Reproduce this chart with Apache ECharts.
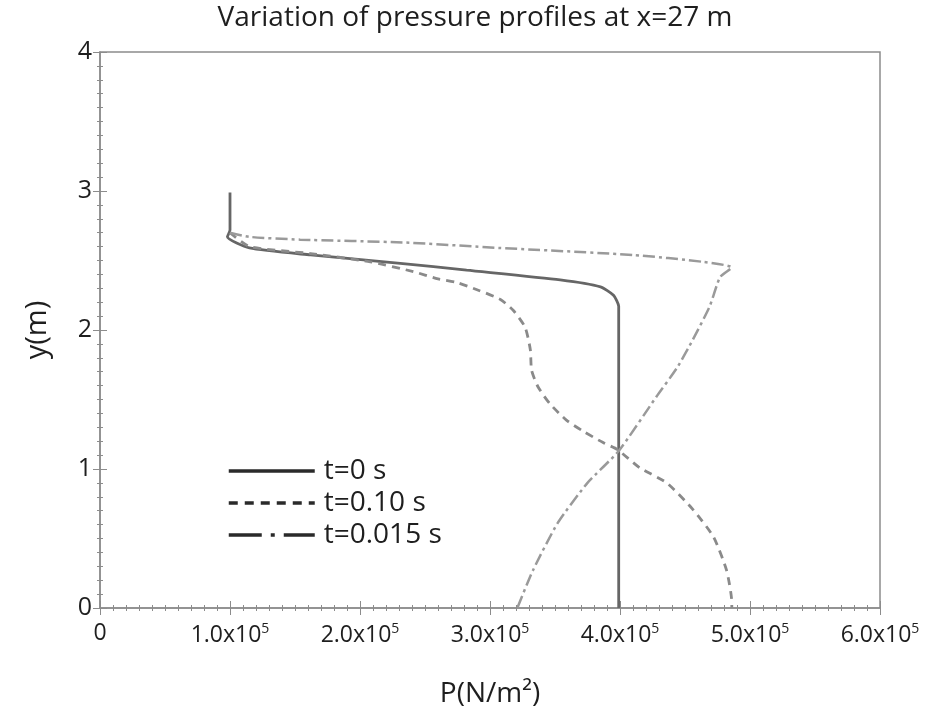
<!DOCTYPE html>
<html>
<head>
<meta charset="utf-8">
<script src="https://cdn.jsdelivr.net/npm/echarts@6/dist/echarts.min.js"></script>
<style>
  html, body { margin: 0; padding: 0; background: #fff; }
  #chart { width: 927px; height: 719px; }
</style>
</head>
<body>
<div id="chart"></div>
<script>
// pressure in N/m^2, height in m
const seriesNames = ["t=0 s", "t=0.10 s", "t=0.015 s"];

const t0P = [100000, 100000, 98000, 115000, 162000, 231000, 282000, 354000, 385000, 395000, 399000, 399000, 399000];
const t0Y = [2.99, 2.72, 2.67, 2.59, 2.54, 2.48, 2.43, 2.36, 2.31, 2.25, 2.17, 2.07, 0];

const t010P = [100000, 115000, 162000, 208000, 241000, 259000, 275000, 290000, 308000, 318000, 327000, 331000, 332000, 337000, 346000, 359000, 372000, 387000, 398000, 415000, 436000, 456000, 472000, 482000, 486000, 486000];
const t010Y = [2.70, 2.60, 2.55, 2.49, 2.42, 2.37, 2.34, 2.29, 2.22, 2.14, 2.02, 1.86, 1.71, 1.59, 1.47, 1.35, 1.27, 1.19, 1.14, 1.01, 0.90, 0.71, 0.51, 0.27, 0.04, 0];

const t0015P = [100000, 115000, 154000, 233000, 308000, 410000, 464000, 486000, 477000, 469000, 456000, 444000, 428000, 399000, 375000, 352000, 333000, 321000];
const t0015Y = [2.70, 2.67, 2.65, 2.63, 2.59, 2.54, 2.49, 2.45, 2.38, 2.17, 1.93, 1.73, 1.52, 1.13, 0.90, 0.61, 0.27, 0];

const xTicks = ["0", "1.0x10{s|5}", "2.0x10{s|5}", "3.0x10{s|5}", "4.0x10{s|5}", "5.0x10{s|5}", "6.0x10{s|5}"];

const pairs = (p, y) => p.map((v, i) => [v, y[i]]);

const font = "'Open Sans', sans-serif";
const frame = "#8c8c8c";
const ink = "#1e1e1e";

const chart = echarts.init(document.getElementById("chart"));

const hiddenAxis = {
  axisLine: { show: false },
  axisLabel: { show: false },
  splitLine: { show: false },
  axisTick: { show: true, inside: true, length: 7, lineStyle: { color: frame } },
  minorTick: { show: true, splitNumber: 10, length: 3, lineStyle: { color: frame } }
};

chart.setOption({
  animation: false,
  backgroundColor: "#fff",
  title: {
    text: "Variation of pressure profiles at x=27 m",
    left: 470,
    textAlign: "center",
    top: -1,
    textStyle: { fontFamily: font, fontSize: 28, fontWeight: "normal", color: ink }
  },
  legend: {
    orient: "vertical",
    left: 222,
    top: 452,
    itemWidth: 86,
    itemHeight: 20,
    itemGap: 4,
    itemStyle: { opacity: 0 },
    textStyle: { fontFamily: font, fontSize: 28, color: ink, padding: [0, 0, 0, 4] },
    data: [
      { name: seriesNames[0], lineStyle: { color: "#2a2a2a", width: 3.5, type: "solid" } },
      { name: seriesNames[1], lineStyle: { color: "#2a2a2a", width: 3.5, type: [9, 7] } },
      { name: seriesNames[2], lineStyle: { color: "#2a2a2a", width: 3.5, type: [33, 9, 4, 9] } }
    ]
  },
  grid: {
    left: 100, right: 47, top: 52, bottom: 111,
    show: true, borderColor: frame, borderWidth: 1.5
  },
  xAxis: [
    {
      type: "value", min: 0, max: 600000, interval: 100000,
      name: "P(N/m²)", nameLocation: "middle", nameGap: 72,
      nameTextStyle: { fontFamily: font, fontSize: 28, color: ink },
      axisLine: { show: true, lineStyle: { color: frame, width: 1.5 } },
      axisTick: { show: true, inside: true, length: 7, lineStyle: { color: frame } },
      minorTick: { show: true, splitNumber: 10, length: 3, lineStyle: { color: frame } },
      splitLine: { show: false },
      axisLabel: {
        margin: 14,
        fontFamily: font, fontSize: 23, color: ink,
        formatter: (v) => xTicks[Math.round(v / 100000)],
        rich: { s: { fontFamily: font, fontSize: 14, color: ink, padding: [0, 0, 12, 0] } }
      }
    },
    Object.assign({ type: "value", min: 0, max: 600000, interval: 100000, position: "top" }, hiddenAxis)
  ],
  yAxis: [
    {
      type: "value", min: 0, max: 4, interval: 1,
      name: "y(m)", nameLocation: "middle", nameGap: 48, nameRotate: 90,
      nameTextStyle: { fontFamily: font, fontSize: 29, color: ink },
      axisLine: { show: true, lineStyle: { color: frame, width: 1.5 } },
      axisTick: { show: true, inside: true, length: 7, lineStyle: { color: frame } },
      minorTick: { show: true, splitNumber: 10, length: 3, lineStyle: { color: frame } },
      splitLine: { show: false },
      axisLabel: { margin: 8, fontFamily: font, fontSize: 25, color: ink }
    },
    Object.assign({ type: "value", min: 0, max: 4, interval: 1, position: "right" }, hiddenAxis)
  ],
  series: [
    {
      name: seriesNames[0], type: "line", symbol: "none", smooth: 0.2,
      lineStyle: { color: "#666666", width: 2.8, type: "solid" },
      itemStyle: { color: "#666666" },
      data: pairs(t0P, t0Y)
    },
    {
      name: seriesNames[1], type: "line", symbol: "none", smooth: 0.2,
      lineStyle: { color: "#8a8a8a", width: 2.8, type: [8, 6] },
      itemStyle: { color: "#8a8a8a" },
      data: pairs(t010P, t010Y)
    },
    {
      name: seriesNames[2], type: "line", symbol: "none", smooth: 0.2,
      lineStyle: { color: "#9a9a9a", width: 2.5, type: [12, 4, 3, 4] },
      itemStyle: { color: "#9a9a9a" },
      data: pairs(t0015P, t0015Y)
    }
  ]
});
</script>
</body>
</html>
